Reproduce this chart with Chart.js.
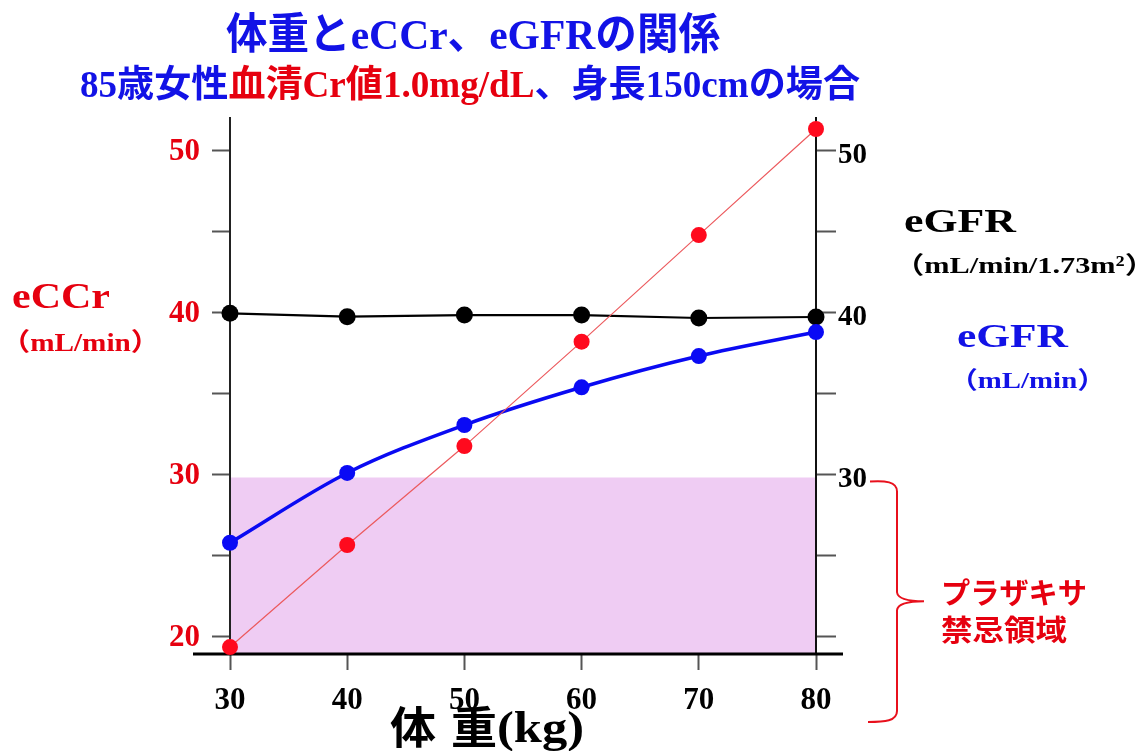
<!DOCTYPE html>
<html lang="ja">
<head>
<meta charset="utf-8">
<title>体重とeCCr、eGFRの関係</title>
<script src="https://cdn.jsdelivr.net/npm/chart.js@4.4.1/dist/chart.umd.min.js"></script>
<style>
  html, body { margin: 0; padding: 0; background: #fff; }
  #wrap { width: 1144px; height: 751px; }
</style>
</head>
<body>
<div id="wrap"><canvas id="c" width="1144" height="751"></canvas></div>
<script>
// 体重 (kg)
const weightKg = [30, 40, 50, 60, 70, 80];
// eCCr (mL/min)
const eCCr = [19.33, 25.63, 31.74, 38.19, 44.77, 51.32];
// eGFR (mL/min/1.73m²)
const eGFRStd = [39.94, 39.73, 39.83, 39.83, 39.65, 39.71];
// eGFR (mL/min), 体表面積で換算
const eGFRBody = [25.77, 30.08, 33.04, 35.37, 37.30, 38.78];
// プラザキサ禁忌領域の上限と横幅
const contraLimit = 29.8;
const contraRange = [30, 80];
// 目盛り
const xTicks = [30, 40, 50, 60, 70, 80];
const yTicks = [20, 25, 30, 35, 40, 45, 50];
const leftLabels = [20, 30, 40, 50];
const rightLabels = [30, 40, 50];

const BLUE = '#1212e6';
const RED = '#e6000f';
const SERIF = '"Liberation Serif", "Noto Sans CJK JP", serif';
const GOTHIC = '"Noto Sans CJK JP", sans-serif';

const pts = ys => weightKg.map((x, i) => ({ x, y: ys[i] }));

// 文字列を左右の幅に合わせて横方向に伸縮して描く
function fitText(ctx, parts, left, right, y, size, family, baseline) {
  ctx.save();
  ctx.font = `bold ${size}px ${family}`;
  const widths = parts.map(p => ctx.measureText(p[0]).width);
  const total = widths.reduce((a, b) => a + b, 0);
  ctx.translate(left, y);
  ctx.scale((right - left) / total, 1);
  ctx.textAlign = 'left';
  ctx.textBaseline = baseline;
  let x = 0;
  parts.forEach((p, i) => {
    ctx.fillStyle = p[1];
    ctx.fillText(p[0], x, 0);
    x += widths[i];
  });
  ctx.restore();
}

const decorations = {
  id: 'decorations',
  beforeDatasetsDraw(chart) {
    // 横軸の基線 (縦軸より左右に少しはみ出す)
    const { ctx, chartArea } = chart;
    ctx.save();
    ctx.strokeStyle = '#000';
    ctx.lineWidth = 3;
    ctx.beginPath();
    ctx.moveTo(chartArea.left - 37, chartArea.bottom);
    ctx.lineTo(chartArea.right + 27, chartArea.bottom);
    ctx.stroke();
    ctx.restore();
  },
  afterDraw(chart) {
    const { ctx, chartArea } = chart;
    const yS = chart.scales.y;

    // タイトル
    fitText(ctx, [['体重とeCCr、eGFRの関係', BLUE]], 226, 720, 38, 43, SERIF, 'middle');
    fitText(ctx, [['85歳女性', BLUE], ['血清Cr値1.0mg/dL', RED], ['、身長150cmの場合', BLUE]],
            80, 860, 87, 37, SERIF, 'middle');

    // 左軸の名前
    fitText(ctx, [['eCCr', RED]], 12, 110, 308, 36, SERIF, 'alphabetic');
    fitText(ctx, [['（mL/min）', RED]], 1, 160, 351, 25, SERIF, 'alphabetic');

    // 右軸の名前
    fitText(ctx, [['eGFR', '#000']], 904, 1016, 232, 34, SERIF, 'alphabetic');
    fitText(ctx, [['（mL/min/1.73m²）', '#000']], 894, 1155, 273, 24, SERIF, 'alphabetic');
    fitText(ctx, [['eGFR', BLUE]], 957, 1068, 347, 34, SERIF, 'alphabetic');
    fitText(ctx, [['（mL/min）', BLUE]], 949, 1106, 388, 24, SERIF, 'alphabetic');

    // 横軸の名前
    fitText(ctx, [['体', '#000']], 390, 436, 744, 44, SERIF, 'alphabetic');
    fitText(ctx, [['重', '#000']], 451, 497, 744, 44, SERIF, 'alphabetic');
    fitText(ctx, [['(kg)', '#000']], 497, 584, 742, 44, SERIF, 'alphabetic');

    // 禁忌領域を示す括弧
    const top = yS.getPixelForValue(contraLimit) + 4;
    const bottom = chartArea.bottom + 67;
    const mid = (top + bottom) / 2;
    const xs = 897, xl = 870, xt = 924;
    ctx.save();
    ctx.strokeStyle = '#e8101c';
    ctx.lineWidth = 2;
    ctx.lineJoin = 'round';
    ctx.beginPath();
    ctx.moveTo(xl, top);
    ctx.bezierCurveTo(885, top - 1, xs, top, xs, top + 10);
    ctx.lineTo(xs, mid - 9);
    ctx.quadraticCurveTo(xs + 1, mid, xt, mid);
    ctx.moveTo(xt, mid);
    ctx.quadraticCurveTo(xs + 1, mid, xs, mid + 9);
    ctx.lineTo(xs, bottom - 10);
    ctx.bezierCurveTo(xs, bottom, 885, bottom + 1, xl - 2, bottom + 1);
    ctx.stroke();
    ctx.restore();

    fitText(ctx, [['プラザキサ', RED]], 941, 1087, 593, 29, GOTHIC, 'middle');
    fitText(ctx, [['禁忌領域', RED]], 941, 1067, 630, 29, GOTHIC, 'middle');
  }
};

new Chart(document.getElementById('c'), {
  type: 'line',
  data: {
    datasets: [
      {
        label: 'プラザキサ禁忌領域',
        data: contraRange.map(x => ({ x, y: contraLimit })),
        fill: 'start',
        backgroundColor: '#efccf3',
        borderWidth: 0,
        pointRadius: 0,
        order: 10
      },
      {
        label: 'eGFR (mL/min/1.73m²)',
        data: pts(eGFRStd),
        borderColor: '#000',
        borderWidth: 2.2,
        pointBackgroundColor: '#000',
        pointBorderWidth: 0,
        pointRadius: 8.5,
        clip: false,
        order: 3
      },
      {
        label: 'eGFR (mL/min)',
        data: pts(eGFRBody),
        borderColor: '#0a0af2',
        borderWidth: 3.5,
        cubicInterpolationMode: 'monotone',
        pointBackgroundColor: '#0a0af5',
        pointBorderWidth: 0,
        pointRadius: 8,
        clip: false,
        order: 2
      },
      {
        label: 'eCCr (mL/min)',
        data: pts(eCCr),
        borderColor: '#ec5a5e',
        borderWidth: 1.2,
        pointBackgroundColor: '#ff0a1e',
        pointBorderWidth: 0,
        pointRadius: 8,
        clip: false,
        order: 1
      }
    ]
  },
  options: {
    responsive: false,
    animation: false,
    events: [],
    layout: { padding: { top: 118, left: 0, right: 0, bottom: 0 } },
    plugins: {
      legend: { display: false },
      title: { display: false },
      tooltip: { enabled: false },
      filler: { drawTime: 'beforeDraw' }
    },
    scales: {
      x: {
        type: 'linear',
        min: 30,
        max: 80,
        afterFit(s) { s.height = 97; },
        afterBuildTicks(s) { s.ticks = xTicks.map(v => ({ value: v })); },
        border: { display: false },
        grid: { drawOnChartArea: false, drawTicks: true, tickLength: 16, tickColor: '#555', tickWidth: 2 },
        ticks: { color: '#000', font: { family: SERIF, weight: 'bold', size: 31 }, padding: 12, autoSkip: false, maxRotation: 0 }
      },
      y: {
        type: 'linear',
        position: 'left',
        min: 18.9,
        max: 52,
        afterFit(s) { s.width = 230; },
        afterBuildTicks(s) { s.ticks = yTicks.map(v => ({ value: v })); },
        border: { display: true, color: '#222', width: 2 },
        grid: { drawOnChartArea: false, drawTicks: true, tickLength: 18, tickColor: '#555', tickWidth: 2 },
        ticks: {
          color: RED, font: { family: SERIF, weight: 'bold', size: 31 }, padding: 12, autoSkip: false,
          labelOffset: 2,
          callback: v => leftLabels.includes(v) ? String(v) : ''
        }
      },
      y2: {
        type: 'linear',
        position: 'right',
        min: 18.9,
        max: 52,
        afterFit(s) { s.width = 328; },
        afterBuildTicks(s) { s.ticks = yTicks.map(v => ({ value: v })); },
        border: { display: true, color: '#111', width: 2 },
        grid: { drawOnChartArea: false, drawTicks: true, tickLength: 20, tickColor: '#555', tickWidth: 2 },
        ticks: {
          color: '#000', font: { family: SERIF, weight: 'bold', size: 29 }, padding: 2, autoSkip: false,
          labelOffset: 5,
          callback: v => rightLabels.includes(v) ? String(v) : ''
        }
      }
    }
  },
  plugins: [decorations]
});
</script>
</body>
</html>
